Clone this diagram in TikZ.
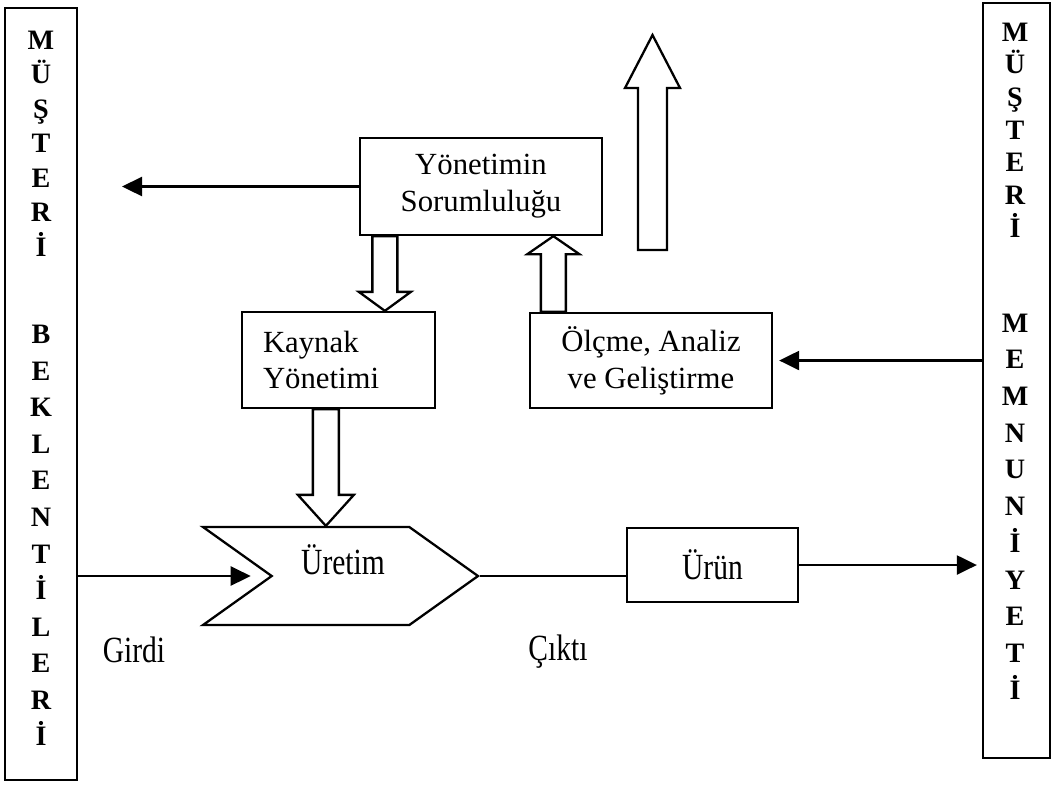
\documentclass[tikz,border=0pt]{standalone}
\usepackage{fontspec}
\setmainfont{Liberation Serif}
\newfontfamily\narrowserif[FakeStretch=0.8]{Liberation Serif}
\usetikzlibrary{arrows.meta,positioning,calc,shapes.symbols}
\newcommand{\fatarr}[5]{%
  \draw[fatarrow] ($(#1)+(-#3,0)$) -- ($(#2)+(-#3,#5)$) -- ($(#2)+(-#4,#5)$) -- (#2)
    -- ($(#2)+(#4,#5)$) -- ($(#2)+(#3,#5)$) -- ($(#1)+(#3,0)$) -- cycle;}

\begin{document}
\begin{tikzpicture}[x=0.2mm,y=-0.2mm,line width=1.3pt,
    box/.style={draw,rectangle,inner sep=0pt,align=center,font=\fontsize{17.5}{21}\selectfont},
    colbox/.style={draw,rectangle,inner sep=0pt},
    coltext/.style={inner sep=0pt,align=center,font=\bfseries\fontsize{16}{#1}\selectfont},
    lbl/.style={inner sep=0pt,font=\narrowserif\fontsize{21}{24}\selectfont},
    chev/.style={draw,signal,signal to=east,signal from=west,signal pointer angle=71,
      inner sep=0pt,minimum width=55mm,minimum height=19.6mm},
    thin/.style={-{Triangle[length=4mm,width=3.8mm]}},
    fatarrow/.style={draw,line join=miter}]
        \useasboundingbox (0,0) rectangle (1054,784);
        \node[colbox,minimum width=14.4mm,minimum height=154.4mm] (lbox) at (41,394) {};
        \node[coltext=19.6pt] (ltop) at (41,143.5) {M\\Ü\\Ş\\T\\E\\R\\İ};
        \node[coltext=20.8pt] (lbot) at (41,535.5) {B\\E\\K\\L\\E\\N\\T\\İ\\L\\E\\R\\İ};
        \node[colbox,minimum width=13.4mm,minimum height=151mm] (rbox) at (1016.5,380.5) {};
        \node[coltext=18.6pt] (rtop) at (1015,130) {M\\Ü\\Ş\\T\\E\\R\\İ};
        \node[coltext=20.9pt] (rbot) at (1015,506.5) {M\\E\\M\\N\\U\\N\\İ\\Y\\E\\T\\İ};
        \node[box,minimum width=48.4mm,minimum height=19.4mm] (yon) at (481,186.5) {Yönetimin\\Sorumluluğu};
        \node[box,align=left,text width=30.2mm,inner xsep=4.2mm,minimum height=19.2mm] (kay) at (338.5,360) {Kaynak\\Yönetimi};
        \node[box,minimum width=48.4mm,minimum height=19mm] (olc) at (651,360.5) {Ölçme, Analiz\\ve Geliştirme};
        \node[chev] (uret) at (340.5,576) {};
        \node[lbl] (uretlbl) at (343,560) {Üretim};
        \node[box,minimum width=34.2mm,minimum height=14.8mm] (urun) at (712.5,565) {\narrowserif\fontsize{21}{24}\selectfont Ürün};
        \node[lbl] (girdi) at (134,650) {Girdi};
        \node[lbl] (cikti) at (558,652) {Çıktı};
        \coordinate (lfT) at (122,186.5);
        \path (yon.south west) ++(26,0) coordinate (kyT);
        \coordinate (kyP) at (kyT |- kay.north);
        \path (olc.north west) ++(24.5,0) coordinate (oyT);
        \coordinate (oyP) at (oyT |- yon.south);
        \path (kay.south west) ++(85,0) coordinate (kuT);
        \coordinate (kuP) at (kuT |- uret.north);
        \coordinate (bigT) at (652.5,250);
        \coordinate (bigP) at (652.5,35);
        \draw[thin] (yon.west) -- (lfT);
        \draw[thin,shorten >=1.2mm] (olc.east -| rbox.west) -- (olc.east);
        \draw[thin,shorten >=3.8mm] (uret.west -| lbox.east) -- (uret.west);
        \draw (uret.east) -- (uret.east -| urun.west);
        \draw[thin,shorten >=1mm] (urun.east) -- (urun.east -| rbox.west);
        \fatarr{kyT}{kyP}{12.5}{26}{-19}
        \fatarr{oyT}{oyP}{12.5}{26}{18}
        \fatarr{kuT}{kuP}{13}{28}{-31}
        \fatarr{bigT}{bigP}{14.5}{27.5}{53}
      \end{tikzpicture}
\end{document}
